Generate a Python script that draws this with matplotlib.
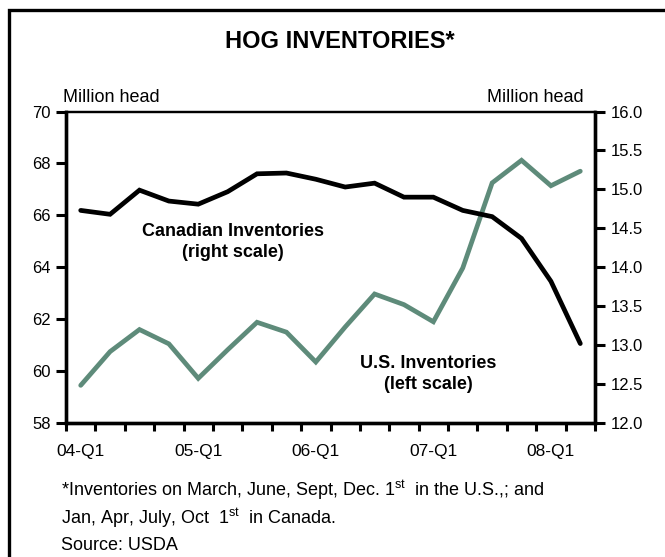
import matplotlib
matplotlib.use("Agg")
import matplotlib.pyplot as plt
from matplotlib.patches import Rectangle
from matplotlib.ticker import MultipleLocator, FixedLocator, FormatStrFormatter

plt.rcParams["font.family"] = ["Liberation Sans", "DejaVu Sans"]
plt.rcParams["mathtext.fontset"] = "custom"
plt.rcParams["mathtext.rm"] = "Liberation Sans"

# quarterly inventories, 04-Q1 .. 08-Q2
quarters = ["04-Q1", "04-Q2", "04-Q3", "04-Q4",
            "05-Q1", "05-Q2", "05-Q3", "05-Q4",
            "06-Q1", "06-Q2", "06-Q3", "06-Q4",
            "07-Q1", "07-Q2", "07-Q3", "07-Q4",
            "08-Q1", "08-Q2"]
us_inv = [59.45, 60.75, 61.6, 61.05, 59.72, 60.82, 61.88, 61.5, 60.35,
          61.7, 62.97, 62.56, 61.9, 63.97, 67.25, 68.12, 67.14, 67.7]
can_inv = [14.73, 14.68, 14.99, 14.85, 14.81, 14.97, 15.2, 15.21, 15.13,
           15.03, 15.08, 14.9, 14.9, 14.73, 14.65, 14.37, 13.82, 13.02]
labelled = ["04-Q1", "05-Q1", "06-Q1", "07-Q1", "08-Q1"]

GREEN = "#5E8B7A"
W, H = 665, 557

fig = plt.figure(figsize=(W / 100, H / 100), dpi=100)
ax = fig.add_axes([66 / W, 1 - 423 / H, 529 / W, 311.5 / H])
ax2 = ax.twinx()

x = list(range(len(quarters)))
ax.plot(x, us_inv, color=GREEN, lw=3.4, solid_capstyle="round",
        solid_joinstyle="miter", zorder=3)
ax2.plot(x, can_inv, color="black", lw=3.4, solid_capstyle="round",
         solid_joinstyle="miter", zorder=3)

ax.set_xlim(-0.5, len(quarters) - 0.5)
ax.set_ylim(58, 70)
ax2.set_ylim(12, 16)
ax.yaxis.set_major_locator(MultipleLocator(2))
ax2.yaxis.set_major_locator(MultipleLocator(0.5))
ax2.yaxis.set_major_formatter(FormatStrFormatter("%.1f"))

# tick marks on the quarter boundaries, labels centred on each year's Q1
ax.xaxis.set_major_locator(FixedLocator([i - 0.5 for i in range(len(quarters) + 1)]))
ax.xaxis.set_major_formatter(plt.NullFormatter())
ax.xaxis.set_minor_locator(FixedLocator([quarters.index(q) for q in labelled]))
ax.set_xticklabels(labelled, minor=True)
ax.tick_params(axis="x", which="major", direction="out", length=6, width=2.2)
ax.tick_params(axis="x", which="minor", length=0, pad=15, labelsize=12.5)
ax.tick_params(axis="y", direction="out", length=7, width=2.2, labelsize=12, pad=4)
ax2.tick_params(axis="y", direction="out", length=7, width=2.2, labelsize=12, pad=4)

for a in (ax, ax2):
    for side in ("left", "right", "bottom"):
        a.spines[side].set_linewidth(2.4)
    a.spines["top"].set_linewidth(1.6)

fig.text(340 / W, 1 - 42 / H, "HOG INVENTORIES*", ha="center", va="center",
         fontsize=17, fontweight="bold")
fig.text(63 / W, 1 - 98 / H, "Million head", ha="left", va="center", fontsize=13)
fig.text(584 / W, 1 - 98 / H, "Million head", ha="right", va="center", fontsize=13)

fig.text(233 / W, 1 - 242 / H, "Canadian Inventories\n(right scale)",
         ha="center", va="center", fontsize=13, fontweight="bold",
         linespacing=1.35)
fig.text(428 / W, 1 - 374 / H, "U.S. Inventories\n(left scale)",
         ha="center", va="center", fontsize=13, fontweight="bold",
         linespacing=1.35)

fig.text(61 / W, 1 - 490 / H,
         r"*Inventories on March, June, Sept, Dec. 1$^{\rm st}$  in the U.S.,; and",
         ha="left", va="center", fontsize=13)
fig.text(61 / W, 1 - 518 / H, r"Jan, Apr, July, Oct  1$^{\rm st}$  in Canada.",
         ha="left", va="center", fontsize=13)
fig.text(61 / W, 1 - 545 / H, "Source: USDA", ha="left", va="center", fontsize=13)

# outer frame (runs off the right and bottom edges)
fig.add_artist(Rectangle((8.5 / W, -0.2), 1.2, 1.2 - 10 / H,
                         transform=fig.transFigure, fill=False,
                         lw=2.4, ec="black"))

fig.savefig("out.png", dpi=100)
